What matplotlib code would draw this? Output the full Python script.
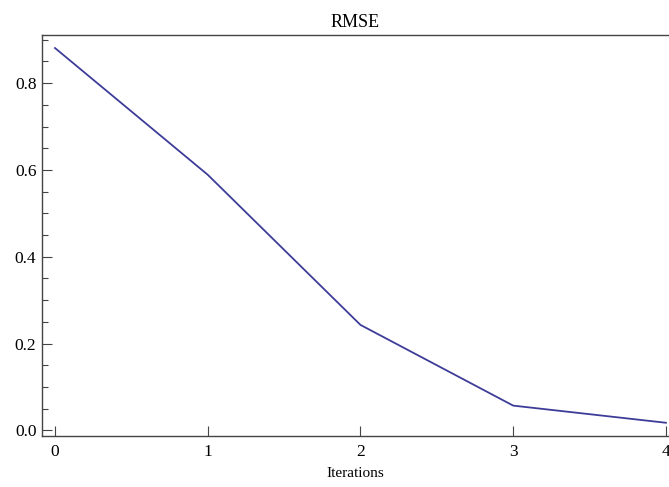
import matplotlib.pyplot as plt
from matplotlib.ticker import MultipleLocator

# data
iterations = [0, 1, 2, 3, 4]
rmse = [0.881, 0.589, 0.243, 0.057, 0.0175]

plt.rcParams['font.family'] = ['Liberation Serif', 'DejaVu Serif']

fig = plt.figure(figsize=(6.69, 4.87), dpi=100)
ax = fig.add_axes([42/669, 51/487, 627/669, 401/487])

ax.plot(iterations, rmse, color='#3d3d99', linewidth=1.3)

ax.set_xlim(-0.085, 4.02)
ax.set_ylim(-0.013, 0.911)
ax.xaxis.set_major_locator(MultipleLocator(1))
ax.yaxis.set_major_locator(MultipleLocator(0.2))
ax.yaxis.set_minor_locator(MultipleLocator(0.05))
ax.yaxis.set_major_formatter(plt.FuncFormatter(lambda v, p: f'{v:.1f}'))

ax.spines['right'].set_visible(False)
for s in ['left', 'bottom', 'top']:
    ax.spines[s].set_color('#444444')
    ax.spines[s].set_linewidth(1.0)

ax.tick_params(axis='both', which='major', direction='in', length=7, width=0.8,
               color='#444444', labelsize=12.5, pad=6)
ax.tick_params(axis='y', which='minor', direction='in', length=4, width=0.8, color='#444444')
ax.tick_params(axis='y', which='major', pad=4)

ax.set_title('RMSE', fontsize=13, pad=6)
ax.set_xlabel('Iterations', fontsize=11, labelpad=5)

fig.savefig('out.png', dpi=100)
